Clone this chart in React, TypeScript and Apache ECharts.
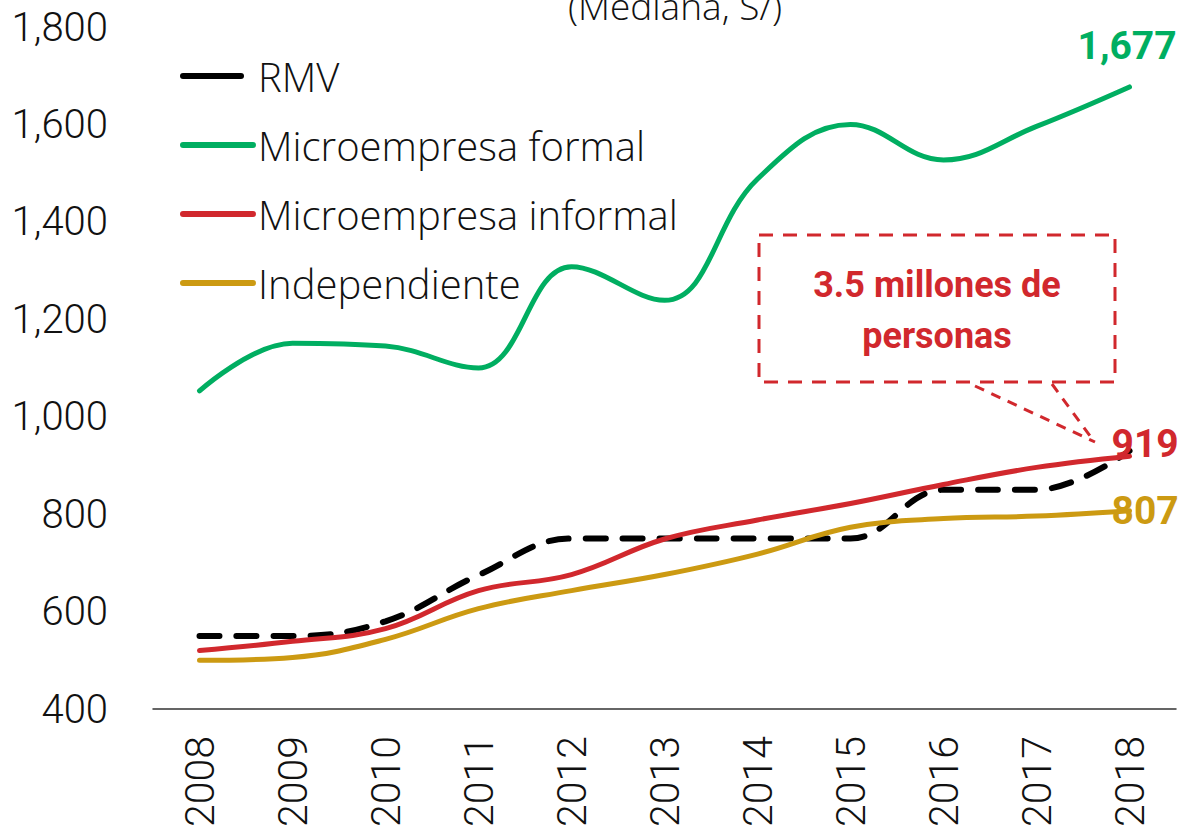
import React, { useEffect, useRef } from "react";
import * as echarts from "echarts";

const years = ["2008", "2009", "2010", "2011", "2012", "2013", "2014", "2015", "2016", "2017", "2018"];
const rmv = [550, 550, 580, 675, 750, 750, 750, 750, 850, 850, 930];
const microFormal = [1053, 1151, 1145, 1100, 1308, 1239, 1488, 1600, 1527, 1596, 1677];
const microInformal = [520, 539, 565, 643, 676, 749, 788, 822, 861, 896, 919];
const independiente = [500, 506, 543, 606, 643, 676, 718, 773, 791, 796, 807];
const yTicks = { min: 400, max: 1800, interval: 200 };

const GREEN = "#00AE61";
const RED = "#D1282D";
const GOLD = "#CC9A12";
const FONT = "Roboto";
const LEGEND_FONT = "Open Sans";

function endLabel(color: string, offset: number[]) {
  return {
    show: true,
    color,
    fontFamily: FONT,
    fontWeight: "bold",
    fontSize: 39,
    distance: 8,
    offset,
    formatter: (p: any) => Number(p.value).toLocaleString("en-US"),
  };
}

export default function App() {
  const ref = useRef<HTMLDivElement>(null);
  useEffect(() => {
    if (!ref.current) return;
    const chart = echarts.init(ref.current, undefined, { renderer: "svg" });
    const lineBase = (name: string, color: string, data: number[], z: number, label?: any) => ({
      name,
      type: "line",
      data,
      smooth: 0.4,
      symbol: "none",
      lineStyle: { color, width: 5, cap: "round" },
      itemStyle: { color },
      endLabel: label,
      z,
    });
    chart.setOption({
      animation: false,
      grid: { left: 153, right: 7, top: 27, bottom: 117 },
      graphic: [
        {
          type: "text",
          x: 675,
          y: 5,
          style: {
            text: "(Mediana, S/)",
            fontFamily: LEGEND_FONT,
            fontWeight: 300,
            fontSize: 37,
            fill: "#111",
            align: "center",
            verticalAlign: "middle",
          },
        },
        {
          type: "rect",
          shape: { x: 759, y: 235, width: 356, height: 147 },
          style: { fill: "none", stroke: RED, lineWidth: 3, lineDash: [14, 10] },
        },
        {
          type: "text",
          x: 937,
          y: 285,
          style: {
            text: "3.5 millones de",
            fontFamily: FONT,
            fontWeight: "bold",
            fontSize: 36,
            fill: RED,
            align: "center",
            verticalAlign: "middle",
          },
        },
        {
          type: "text",
          x: 937,
          y: 336,
          style: {
            text: "personas",
            fontFamily: FONT,
            fontWeight: "bold",
            fontSize: 36,
            fill: RED,
            align: "center",
            verticalAlign: "middle",
          },
        },
        {
          type: "line",
          shape: { x1: 975, y1: 386, x2: 1095, y2: 442 },
          style: { stroke: RED, lineWidth: 3, lineDash: [10, 8] },
        },
        {
          type: "line",
          shape: { x1: 1052, y1: 384, x2: 1093, y2: 440 },
          style: { stroke: RED, lineWidth: 3, lineDash: [10, 8] },
        },
      ],
      legend: {
        orient: "vertical",
        left: 175,
        top: 50,
        itemWidth: 70,
        itemHeight: 8,
        itemGap: 27,
        itemStyle: { opacity: 0 },
        lineStyle: { width: 6, cap: "round" },
        textStyle: { fontFamily: LEGEND_FONT, fontWeight: 300, fontSize: 40, color: "#111", lineHeight: 42 },
        data: [
          { name: "RMV", lineStyle: { type: [58, 12], width: 6, cap: "round" } },
          "Microempresa formal",
          "Microempresa informal",
          "Independiente",
        ],
      },
      xAxis: {
        type: "category",
        data: years,
        boundaryGap: true,
        axisLine: { lineStyle: { color: "#333", width: 1.5 } },
        axisTick: { show: false },
        axisLabel: {
          rotate: 90,
          margin: 27,
          fontFamily: FONT,
          fontWeight: 300,
          fontSize: 41,
          color: "#111",
        },
      },
      yAxis: {
        type: "value",
        min: yTicks.min,
        max: yTicks.max,
        interval: yTicks.interval,
        splitLine: { show: false },
        axisLine: { show: false },
        axisTick: { show: false },
        axisLabel: {
          margin: 45,
          fontFamily: FONT,
          fontWeight: 300,
          fontSize: 40,
          color: "#111",
          formatter: (v: number) => v.toLocaleString("en-US"),
        },
      },
      series: [
        {
          ...lineBase("RMV", "#000", rmv, 3),
          lineStyle: { color: "#000", width: 6, type: [20, 17], cap: "round" },
        },
        lineBase("Microempresa formal", GREEN, microFormal, 2, endLabel(GREEN, [-60, -41])),
        lineBase("Microempresa informal", RED, microInformal, 4, endLabel(RED, [-26, -12])),
        lineBase("Independiente", GOLD, independiente, 4, endLabel(GOLD, [-26, 0])),
      ],
    });
    return () => chart.dispose();
  }, []);
  return (
    <div
      ref={ref}
      style={{ position: "fixed", left: 0, top: 0, width: 1183, height: 830, background: "#fff" }}
    />
  );
}
